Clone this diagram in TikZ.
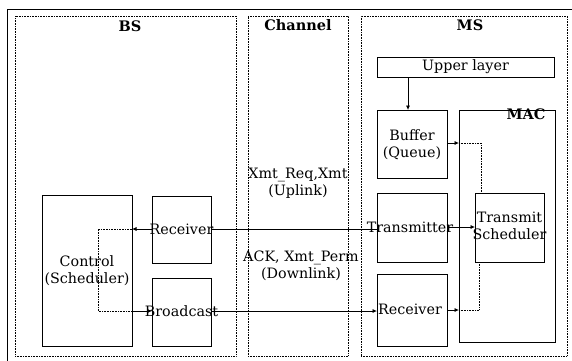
\documentclass[tikz,border=0pt]{standalone}
\usepackage{fontspec}
\setmainfont{DejaVu Serif}
\usetikzlibrary{arrows.meta,calc}
\begin{document}
\begin{tikzpicture}[x=1pt,y=-1pt,
  every node/.style={inner sep=0pt,outer sep=0pt},
  txt/.style={font=\fontsize{14.3}{17}\selectfont,align=center},
  ttl/.style={font=\fontsize{14.5}{17}\selectfont\bfseries},
  region/.style={draw,densely dotted,line width=0.6pt},
  blk/.style={draw,line width=0.7pt},
  conn/.style={line width=0.7pt,-{Latex[length=4.5pt,width=4pt]}},
  dots/.style={densely dotted,line width=0.6pt}]
\useasboundingbox (0,0) rectangle (572,360);
% outer frame
\draw[line width=0.8pt] (7,362) -- (7,9) -- (574,9);
% regions
\node[region,minimum width=221,minimum height=340] (bs) at (125.5,186) {};
\node[region,minimum width=100,minimum height=340] (ch) at (298,186) {};
\node[region,minimum width=206,minimum height=340] (ms) at (464,186) {};
\node[ttl] (bst) at (130,26) {BS};
\node[ttl] (cht) at (298,25) {Channel};
\node[ttl] (mst) at (470,25) {MS};
% MS blocks
\node[blk,minimum width=177,minimum height=20] (up) at (465.5,67) {};
\node[txt] (upt) at (465.5,67) {Upper layer};
\node[blk,minimum width=70,minimum height=68] (buf) at (412,144) {};
\node[txt] (buft) at (412,145) {Buffer\\(Queue)};
\node[blk,minimum width=96,minimum height=232] (mac) at (507,226) {};
\node[ttl] (mact) at (526,114) {MAC};
\node[blk,minimum width=70,minimum height=69] (tx) at (412,227.5) {};
\node[txt] (txt1) at (410,227) {Transmitter};
\node[blk,minimum width=70,minimum height=72] (msrx) at (412,310) {};
\node[txt] (msrxt) at (410,309) {Receiver};
\node[blk,minimum width=69,minimum height=69] (ts) at (509.5,227.5) {};
\node[txt] (tst) at (509.5,226) {Transmit\\Scheduler};
% BS blocks
\node[blk,minimum width=90,minimum height=151] (ctl) at (87,270.5) {};
\node[txt] (ctlt) at (87,271) {Control\\(Scheduler)};
\node[blk,minimum width=59,minimum height=67] (bsrx) at (181.5,229.5) {};
\node[txt] (bsrxt) at (181.5,229) {Receiver};
\node[blk,minimum width=59,minimum height=68] (bc) at (181.5,312) {};
\node[txt] (bct) at (181.5,311) {Broadcast};
% channel labels
\node[txt] (ul) at (298,183) {Xmt\_Req,Xmt\\(Uplink)};
\node[txt] (dl) at (301,266) {ACK, Xmt\_Perm\\(Downlink)};
% coordinates
\coordinate (upa) at ($(up.south west)+(31,0)$);
\coordinate (bufa) at ($(buf.north west)+(31,0)$);
\coordinate (ulR) at (tx.west |- 0,229);
\coordinate (ulL) at (bsrx.east |- 0,229);
\coordinate (ulL2) at (bsrx.west |- 0,229);
\coordinate (ctlU) at (ctl.east |- 0,229);
\coordinate (ctlD) at (ctl.east |- 0,311);
\coordinate (bcL) at (bc.west |- 0,311);
\coordinate (bcR) at (bc.east |- 0,311);
\coordinate (msrxL) at (msrx.west |- 0,311);
\coordinate (ctlUi) at (98,229);
\coordinate (ctlDi) at (98,311);
\coordinate (bufR) at (buf.east |- 0,143);
\coordinate (macB) at (mac.west |- 0,143);
\coordinate (tsT) at ($(ts.north west)+(6,0)$);
\coordinate (txR) at (tx.east |- 0,227);
\coordinate (tsL) at (ts.west |- 0,227);
\coordinate (msrxR) at (msrx.east |- 0,310);
\coordinate (macR) at (mac.west |- 0,310);
\coordinate (tsB) at ($(ts.south west)+(4,0)$);
% connectors
\draw[conn] (upa) -- (bufa);
\draw[line width=0.7pt] (ulR) -- (ulL);
\draw[conn] (ulL2) -- (ctlU);
\draw[dots] (ctlU) -- (ctlUi) -- (ctlDi) -- (ctlD);
\draw[conn] (ctlD) -- (bcL);
\draw[conn] (bcR) -- (msrxL);
\draw[conn] (bufR) -- (macB);
\draw[dots] (macB) -| (tsT);
\draw[conn] (txR) -- (tsL);
\draw[conn] (msrxR) -- (macR);
\draw[dots] (macR) -| (tsB);
\end{tikzpicture}
\end{document}
